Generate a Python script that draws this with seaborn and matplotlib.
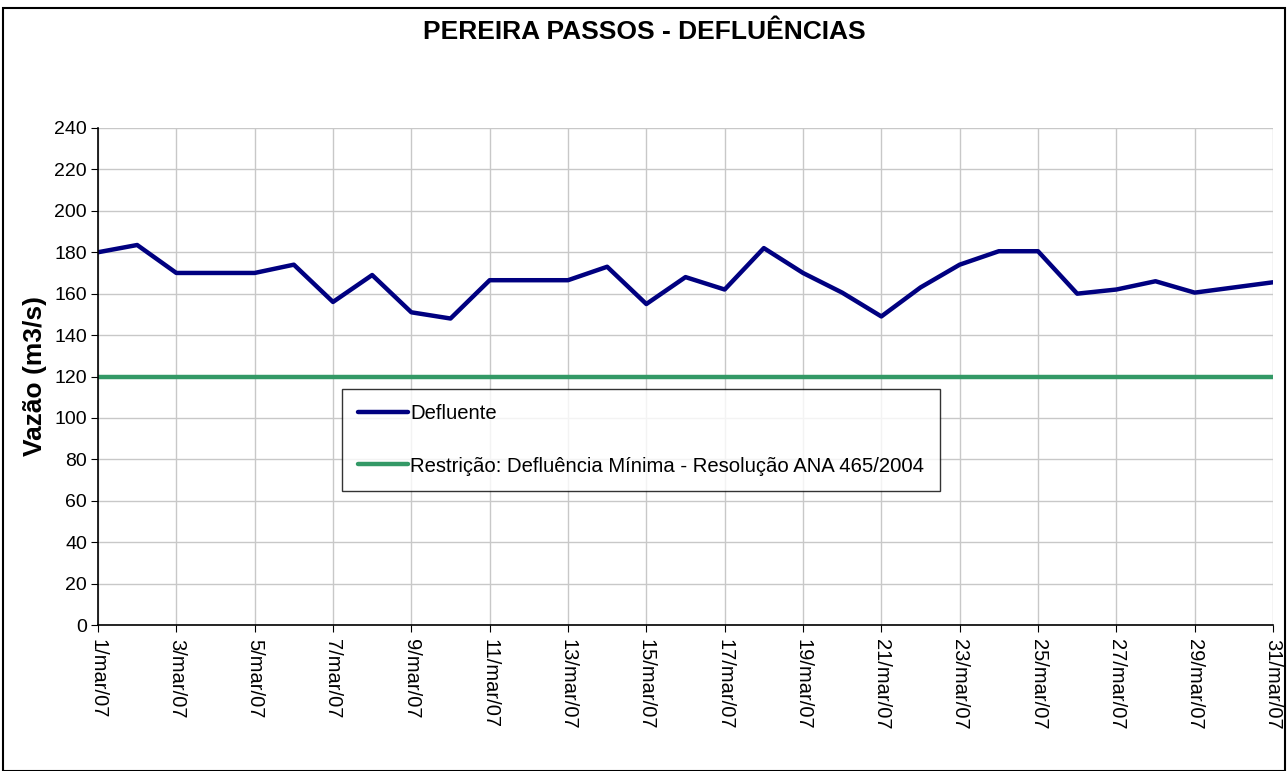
import pandas as pd
import matplotlib.pyplot as plt
import seaborn as sns
from matplotlib.patches import Rectangle

# ---------------------------------------------
# Data
# ---------------------------------------------
days = list(range(1, 32))
defluente = [180, 183.5, 170, 170, 170, 174, 156, 169, 151, 148,
             166.5, 166.5, 166.5, 173, 155, 168, 162, 182, 170, 160.5,
             149, 163, 174, 180.5, 180.5, 160, 162, 166, 160.5, 163, 165.5]
restricao = [120] * 31
tick_days = list(range(1, 32, 2))
tick_labels = [f'{d}/mar/07' for d in tick_days]

lbl_def = 'Defluente'
lbl_res = 'Restrição: Defluência Mínima - Resolução ANA 465/2004'

df = pd.DataFrame({'dia': days * 2,
                   'vazao': defluente + restricao,
                   'serie': [lbl_def] * 31 + [lbl_res] * 31})

# ---------------------------------------------
# Plot
# ---------------------------------------------
sns.set_style('white')
plt.rcParams['font.family'] = ['Liberation Sans', 'DejaVu Sans']
plt.rcParams['text.color'] = 'black'
plt.rcParams['axes.labelcolor'] = 'black'
plt.rcParams['xtick.color'] = 'black'
plt.rcParams['ytick.color'] = 'black'

fig = plt.figure(figsize=(12.88, 7.71), dpi=100)
ax = fig.add_axes([98 / 1288, 1 - 625 / 771, (1273 - 98) / 1288, (625 - 128) / 771])

sns.lineplot(data=df, x='dia', y='vazao', hue='serie',
             palette={lbl_def: '#000080', lbl_res: '#339966'},
             linewidth=3.2, ax=ax)

ax.set_xlim(1, 31)
ax.set_ylim(0, 240)
ax.set_yticks(range(0, 241, 20))
ax.set_xticks(tick_days)
ax.set_xticklabels(tick_labels, rotation=270, fontsize=14.5)
ax.tick_params(axis='y', labelsize=14, length=5, direction='out', left=True, pad=3)
ax.tick_params(axis='x', length=5, direction='out', bottom=True, pad=5)
ax.grid(True, color='#c8c8c8', linewidth=1)
ax.set_axisbelow(True)
for s in ['top', 'right']:
    ax.spines[s].set_visible(False)
for s in ['left', 'bottom']:
    ax.spines[s].set_color('black')
    ax.spines[s].set_linewidth(1.2)

ax.set_xlabel('')
ax.set_ylabel('Vazão (m3/s)', fontsize=19, fontweight='bold', labelpad=5)

leg = ax.legend(loc='upper left', bbox_to_anchor=(0.208, 0.475), fontsize=14.6,
                frameon=True, fancybox=False, edgecolor='black',
                handlelength=2.5, handletextpad=0.1, labelspacing=1.65,
                borderpad=0.75, borderaxespad=0)
leg.get_frame().set_linewidth(1)
for line in leg.get_lines():
    line.set_linewidth(3.2)

fig.text(0.5, 1 - 32 / 771, 'PEREIRA PASSOS - DEFLUÊNCIAS', ha='center', va='center',
         fontsize=19, fontweight='bold')

fig.patches.append(Rectangle((3 / 1288, 0), 1282 / 1288, 1 - 8 / 771,
                             transform=fig.transFigure, fill=False,
                             edgecolor='black', linewidth=1.5))

fig.savefig('out.png', dpi=100)
